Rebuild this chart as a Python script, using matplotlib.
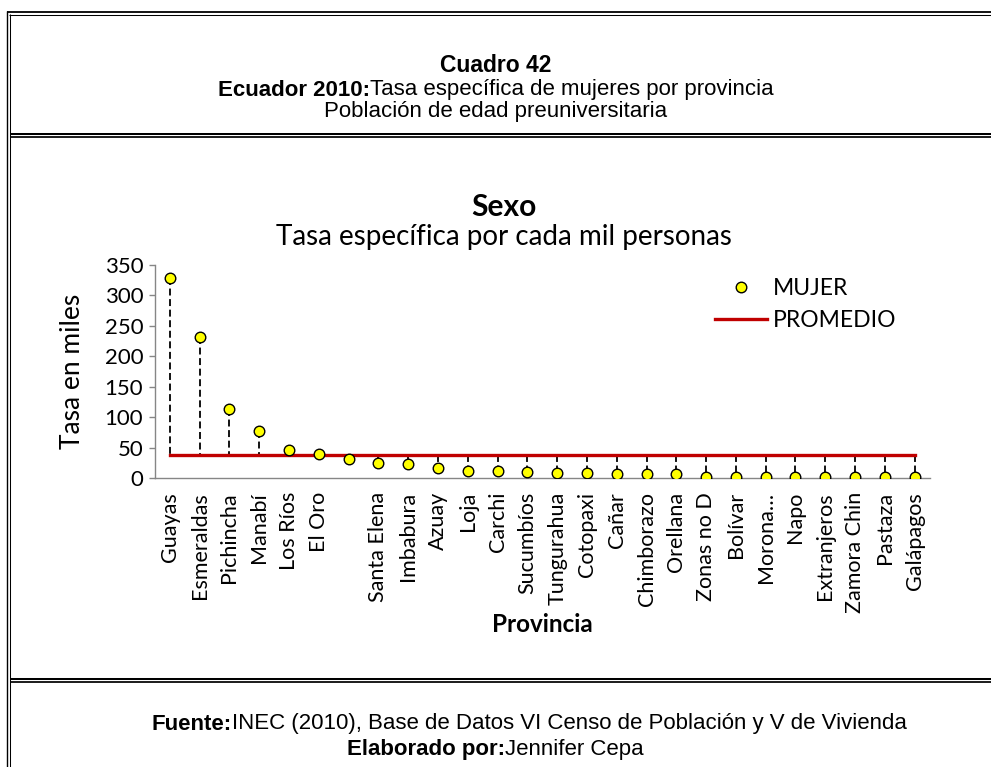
import matplotlib
matplotlib.use("Agg")
import matplotlib.pyplot as plt
from matplotlib.lines import Line2D
from matplotlib.offsetbox import TextArea, HPacker, AnchoredOffsetbox

# Province order and female specific rate (per thousand)
provincias = ["Guayas", "Esmeraldas", "Pichincha", "Manabí", "Los Ríos", "El Oro", "",
              "Santa Elena", "Imbabura", "Azuay", "Loja", "Carchi", "Sucumbíos",
              "Tungurahua", "Cotopaxi", "Cañar", "Chimborazo", "Orellana", "Zonas no D",
              "Bolívar", "Morona…", "Napo", "Extranjeros", "Zamora Chin", "Pastaza",
              "Galápagos"]
mujer = [328, 231, 113.5, 78, 46.5, 39.5, 32, 24, 23, 16.5, 11.5, 11.5, 10.5,
         8, 8, 7, 7, 7, 2, 2, 2, 2, 2, 2, 2, 2]
promedio = [38.5] * len(provincias)
y_ticks = [0, 50, 100, 150, 200, 250, 300, 350]

W, H = 991, 767
plt.rcParams["lines.scale_dashes"] = False
fig = plt.figure(figsize=(W / 100, H / 100), dpi=100)
fig.patch.set_facecolor("white")


def fx(x):
    return x / W


def fy(y):
    return 1 - y / H


def hline(y, x0, x1, lw):
    fig.add_artist(Line2D([fx(x0), fx(x1)], [fy(y), fy(y)], transform=fig.transFigure,
                          color="black", lw=lw, solid_capstyle="butt"))


def vline(x, y0, y1, lw):
    fig.add_artist(Line2D([fx(x), fx(x)], [fy(y0), fy(y1)], transform=fig.transFigure,
                          color="black", lw=lw, solid_capstyle="butt"))


# Double frame of the table
hline(11.9, 6.6, W, 1.3)
hline(14.5, 9.3, W, 0.75)
vline(7.3, 11.0, H, 1.0)
vline(9.8, 14.0, H, 0.75)
hline(133.7, 9.8, W, 1.45)
hline(137.2, 10.3, W, 1.25)
hline(678.5, 9.8, W, 1.45)
hline(682.0, 10.3, W, 1.25)

arial = ["Liberation Sans", "DejaVu Sans"]
cal = ["Lato", "DejaVu Sans"]


def mixed_line(xcen, ycen, parts, size=16):
    boxes = [TextArea(s, textprops=dict(fontsize=size, fontweight=w, family=arial))
             for s, w in parts]
    pack = HPacker(children=boxes, align="baseline", pad=0, sep=0)
    ab = AnchoredOffsetbox(loc="center", child=pack, frameon=False, pad=0,
                           bbox_to_anchor=(fx(xcen), fy(ycen)),
                           bbox_transform=fig.transFigure, borderpad=0)
    fig.add_artist(ab)


# Table heading
fig.text(0.5, fy(65), "Cuadro 42", ha="center", va="center", fontsize=16.5,
         fontweight="bold", family=arial)
mixed_line(W / 2, 90, [("Ecuador 2010:", "bold"),
                       ("Tasa específica de mujeres por provincia", "normal")])
fig.text(0.5, fy(112), "Población de edad preuniversitaria", ha="center", va="center",
         fontsize=16, family=arial)

# Footer
mixed_line(529, 724, [("Fuente:", "bold"),
                      ("INEC (2010), Base de Datos VI Censo de Población y V de Vivienda",
                       "normal")])
mixed_line(W / 2, 750, [("Elaborado por:", "bold"), ("Jennifer Cepa", "normal")])

# Chart titles
fig.text(fx(504), fy(207), "Sexo", ha="center", va="center", fontsize=21.5,
         fontweight="bold", family=cal)
fig.text(fx(504), fy(237), "Tasa específica por cada mil personas", ha="center",
         va="center", fontsize=20, family=cal)

# Plot area
left, right, top, bottom = 155, 929.5, 265, 478
ax = fig.add_axes([fx(left), fy(bottom), (right - left) / W, (bottom - top) / H])
x = list(range(len(provincias)))

# Drop lines between each point and the average
for xi, v, p in zip(x, mujer, promedio):
    hi, lo = max(v, p), min(v, p)
    ax.plot([xi, xi], [hi, lo], color="black", lw=1.3, dashes=(5, 2.6), zorder=2)

ax.plot(x, promedio, color="#C00000", lw=2.4, zorder=3, label="PROMEDIO")
ax.plot(x, mujer, linestyle="none", marker="o", markersize=7.6, markerfacecolor="#FFFF00",
        markeredgecolor="black", markeredgewidth=1.0, zorder=4, label="MUJER")

ax.set_xlim(-0.5, len(provincias) - 0.5)
ax.set_ylim(0, 350)
ax.set_yticks(y_ticks)
ax.set_xticks(x)
ax.set_xticklabels(provincias, rotation=90, fontsize=15.5, family=cal)
ax.tick_params(axis="x", length=0, pad=10)
ax.tick_params(axis="y", length=4.5, color="#868686", width=1, labelsize=16, pad=4)
for lab in ax.get_yticklabels():
    lab.set_family(cal)
for s in ["top", "right"]:
    ax.spines[s].set_visible(False)
for s in ["left", "bottom"]:
    ax.spines[s].set_color("#868686")
    ax.spines[s].set_linewidth(1.0)
ax.set_facecolor("none")

fig.text(fx(72), fy((top + bottom) / 2), "Tasa en miles", rotation=90, ha="center",
         va="center", fontsize=19, family=cal)
fig.text(fx((left + right) / 2), fy(625), "Provincia", ha="center", va="center",
         fontsize=17.5, fontweight="bold", family=cal)

handles, labels = ax.get_legend_handles_labels()
ax.legend(handles[::-1], labels[::-1], loc="center left", frameon=False,
          bbox_to_anchor=(fx(715), fy(304.5)), bbox_transform=fig.transFigure,
          prop=dict(family=cal, size=16.5), handlelength=2.27, handletextpad=0.26,
          labelspacing=0.5, borderpad=0, borderaxespad=0)

fig.savefig("out.png", dpi=100, facecolor="white")
